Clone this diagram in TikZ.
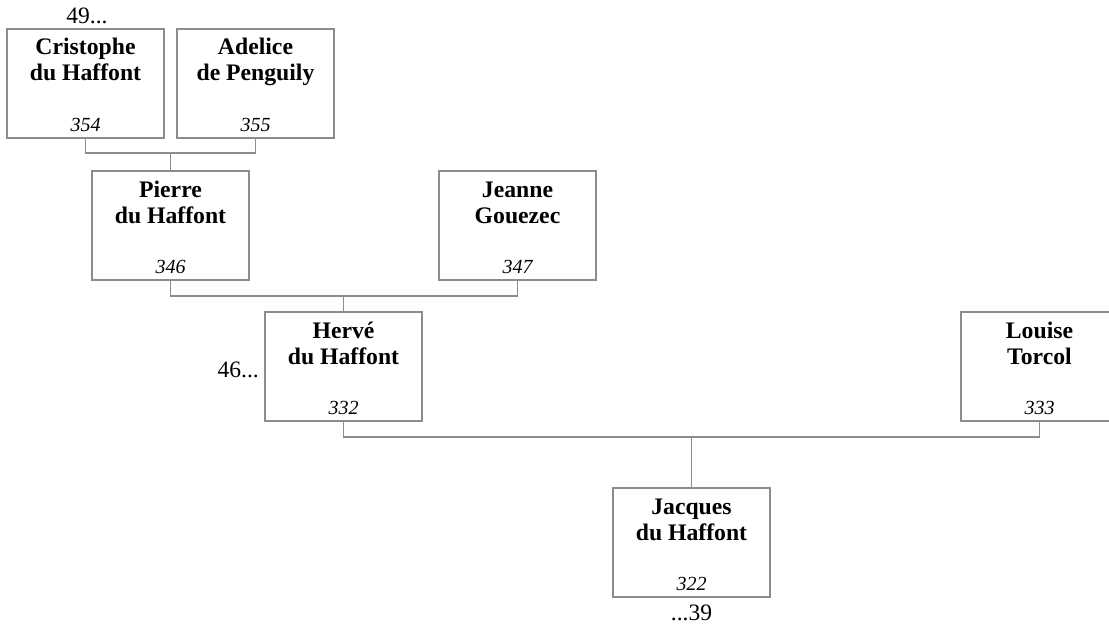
\documentclass[tikz,border=0pt]{standalone}
\usepackage{fontspec}
\setmainfont{Liberation Serif}
\usetikzlibrary{calc}
\definecolor{boxgray}{RGB}{140,140,140}
\tikzset{
  person/.style={draw=boxgray, line width=1.2pt, rectangle, minimum width=157pt, minimum height=109pt, inner sep=0pt, outer sep=0pt},
  namefont/.style={anchor=base, inner sep=0pt, font=\fontsize{23.7}{26}\selectfont\bfseries},
  numfont/.style={anchor=base, inner sep=0pt, font=\fontsize{20}{24}\selectfont\itshape},
  genlabel/.style={inner sep=0pt, font=\fontsize{23.5}{26}\selectfont},
  conn/.style={draw=boxgray, line width=1.2pt}
}
\newcommand{\personbox}[6]{%
  \node[person] (#1) at (#2+78.5,#3+54.5) {};
  \node[namefont] (#1-a) at ($(#1.north)+(0,26)$) {#4};
  \node[namefont] (#1-b) at ($(#1.north)+(0,52)$) {#5};
  \node[numfont] (#1-n) at ($(#1.south)+(0,-7)$) {#6};
}
\begin{document}
\begin{tikzpicture}[x=1pt,y=-1pt]
\useasboundingbox (0,0) rectangle (1109,626);
\personbox{cris}{7}{29}{Cristophe}{du Haffont}{354}
\personbox{adel}{177}{29}{Adelice}{de Penguily}{355}
\personbox{pierre}{92}{171}{Pierre}{du Haffont}{346}
\personbox{jeanne}{439}{171}{Jeanne}{Gouezec}{347}
\personbox{herve}{265}{312}{Hervé}{du Haffont}{332}
\personbox{louise}{961}{312}{Louise}{Torcol}{333}
\personbox{jacques}{613}{488}{Jacques}{du Haffont}{322}

\node[genlabel, anchor=base] (l49) at ($(cris.north)+(1.5,-5)$) {49...};
\node[genlabel, anchor=base east] (l46) at (259,377) {46...};
\node[genlabel, anchor=base] (l39) at ($(jacques.south)+(0,23)$) {...39};

\draw[conn] (cris.south) -- ++(0,15) coordinate (j1) -| (adel.south);
\draw[conn] (pierre.north) -- (pierre.north |- j1);
\draw[conn] (pierre.south) -- ++(0,16) coordinate (j2) -| (jeanne.south);
\draw[conn] (herve.north) -- (herve.north |- j2);
\draw[conn] (herve.south) -- ++(0,16) coordinate (j3) -| (louise.south);
\draw[conn] (jacques.north) -- (jacques.north |- j3);
\end{tikzpicture}
\end{document}
